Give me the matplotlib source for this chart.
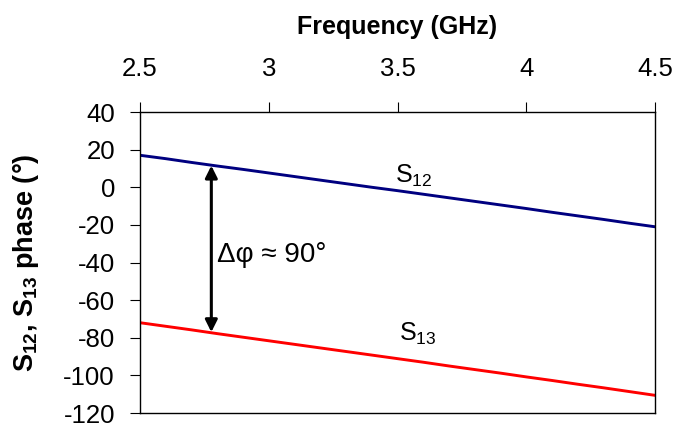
import matplotlib
matplotlib.use("Agg")
import matplotlib.pyplot as plt

plt.rcParams['font.family'] = ['Liberation Sans', 'DejaVu Sans']
plt.rcParams['mathtext.fontset'] = 'custom'
plt.rcParams['mathtext.rm'] = 'Liberation Sans'
plt.rcParams['mathtext.it'] = 'Liberation Sans:italic'
plt.rcParams['mathtext.bf'] = 'Liberation Sans:bold'
plt.rcParams['axes.unicode_minus'] = False

freq = [2.5, 2.6, 2.7, 2.8, 2.9, 3.0, 3.1, 3.2, 3.3, 3.4, 3.5,
        3.6, 3.7, 3.8, 3.9, 4.0, 4.1, 4.2, 4.3, 4.4, 4.5]
s12 = [17.0, 15.2, 13.2, 11.3, 9.5, 7.6, 5.7, 3.8, 1.9, 0.0, -1.8,
       -3.7, -5.6, -7.5, -9.4, -11.3, -13.3, -15.2, -17.1, -19.1, -21.0]
s13 = [-72.0, -73.9, -75.8, -77.8, -79.7, -81.6, -83.5, -85.4, -87.3, -89.2, -91.1,
       -93.0, -95.0, -96.9, -98.8, -100.8, -102.7, -104.7, -106.6, -108.6, -110.6]

xticks = [2.5, 3, 3.5, 4, 4.5]
xticklabels = ['2.5', '3', '3.5', '4', '4.5']
yticks = [-120, -100, -80, -60, -40, -20, 0, 20, 40]

fig = plt.figure(figsize=(6.75, 4.3), dpi=100)
ax = fig.add_axes([0.2074, 0.0395, 0.7630, 0.7000])

ax.plot(freq, s12, color='#000080', lw=2.1)
ax.plot(freq, s13, color='#ff0000', lw=2.1)

ax.set_xlim(2.5, 4.5)
ax.set_ylim(-120, 40)
ax.xaxis.tick_top()
ax.xaxis.set_label_position('top')
ax.set_xticks(xticks)
ax.set_xticklabels(xticklabels)
ax.set_yticks(yticks)
ax.tick_params(axis='both', direction='out', length=7, width=0.8, labelsize=18.5)
ax.tick_params(axis='x', pad=15)
ax.tick_params(axis='y', pad=11)
for sp in ax.spines.values():
    sp.set_linewidth(1.0)

ax.set_xlabel('Frequency (GHz)', fontsize=18, fontweight='bold', labelpad=17)
ax.set_ylabel(r'S$_\mathbf{12}$, S$_\mathbf{13}$ phase (°)', fontsize=19.5,
              fontweight='bold', labelpad=16)

ax.annotate('', xy=(2.777, 11.5), xytext=(2.777, -77.0),
            arrowprops=dict(arrowstyle='<|-|>', color='black', lw=2.2,
                            mutation_scale=18, shrinkA=0, shrinkB=0))
ax.text(2.8, -36, 'Δφ ≈ 90°', fontsize=20, ha='left', va='center')
ax.text(3.49, 6, r'S$_{12}$', fontsize=18, ha='left', va='center')
ax.text(3.505, -78, r'S$_{13}$', fontsize=18, ha='left', va='center')

fig.savefig('out.png', dpi=100)
